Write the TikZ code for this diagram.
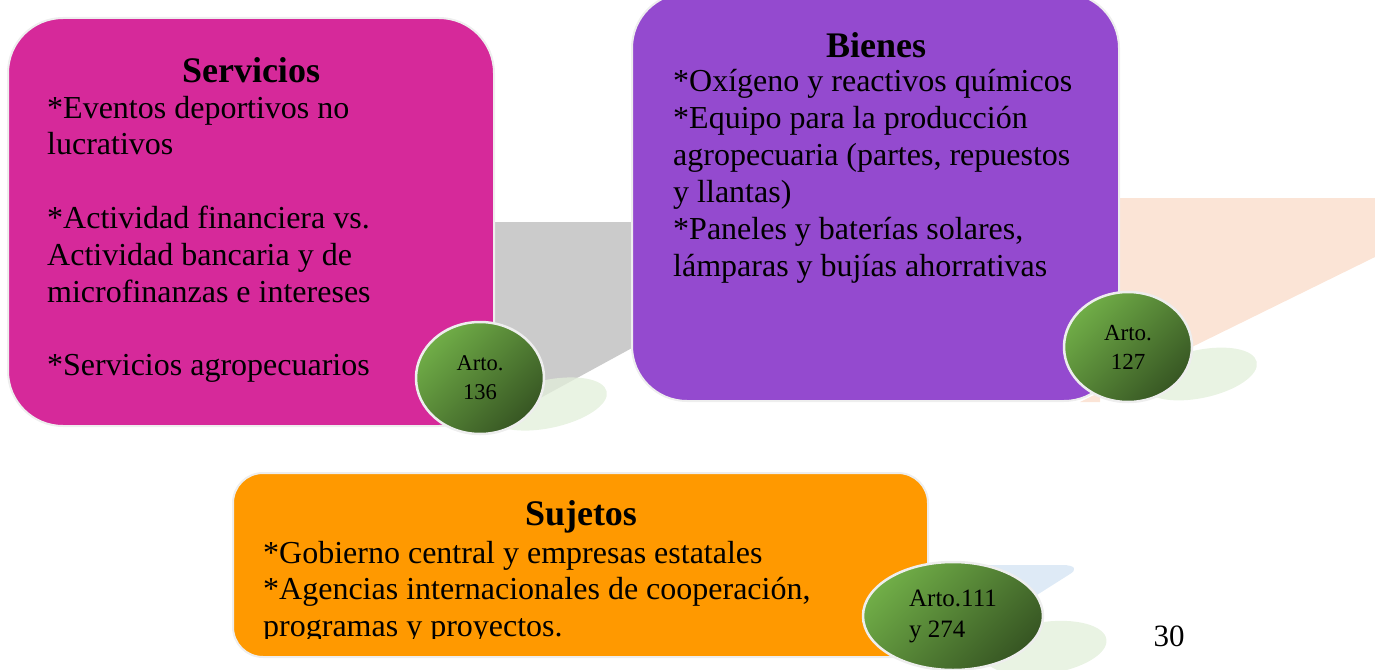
\documentclass[tikz,border=0pt]{standalone}
\usepackage{fontspec}
\setmainfont{Liberation Serif}
\usetikzlibrary{shapes.geometric}
\definecolor{pinkc}{HTML}{D6299A}
\definecolor{purplec}{HTML}{944ACF}
\definecolor{orangec}{HTML}{FF9900}
\definecolor{grayc}{HTML}{CBCBCB}
\definecolor{peachc}{HTML}{FBE4D6}
\definecolor{bluec}{HTML}{DEEAF6}
\definecolor{shadowc}{HTML}{E2EFDA}
\definecolor{glight}{HTML}{70AD47}
\definecolor{gdark}{HTML}{375623}
\definecolor{edgec}{HTML}{EEEEEE}
\newcommand\linesblock[1]{\vtop{\baselineskip=36.8pt\lineskiplimit=-100pt #1}}
\tikzset{
  bigbox/.style={draw=edgec, line width=2pt, rounded corners=55pt, inner sep=0pt},
  smallbox/.style={draw=edgec, line width=2pt, rounded corners=30pt, inner sep=0pt},
  shadowell/.style={ellipse, fill=shadowc, fill opacity=0.75, draw=none, inner sep=0pt},
  artoell/.style={ellipse, draw=edgec, line width=2.5pt, top color=glight, bottom color=gdark, shading angle=45, inner sep=0pt},
  heading/.style={font=\fontsize{36}{40}\selectfont\bfseries, anchor=base, inner sep=0pt},
  body/.style={anchor=base west, inner sep=0pt, font=\fontsize{32}{36.8}\selectfont},
}
\begin{document}
\begin{tikzpicture}[x=1pt,y=-1pt]
\useasboundingbox (0,0) rectangle (1375,669);
% tails
\fill[grayc] (480,222) -- (632,222) -- (632,348) -- (500,420) -- (480,420) -- cycle;
\fill[peachc] (1100,198) -- (1375,198) -- (1375,257) -- (1080,402) -- (1100,402) -- cycle;
\fill[bluec] (900,565) -- (1062,565) .. controls (1076,565) and (1077,570) .. (1070,574) -- (1010,612) -- (900,612) -- cycle;
% shadows
\node[shadowell, minimum width=120pt, minimum height=48pt, rotate=12] (sh1) at (548,404) {};
\node[shadowell, minimum width=116pt, minimum height=48pt, rotate=12] (sh2) at (1200,374) {};
\node[shadowell, minimum width=124pt, minimum height=52pt, rotate=8] (sh3) at (1045,648) {};
% boxes
\node[bigbox, fill=pinkc, minimum width=486pt, minimum height=408pt] (serv) at (251,222) {};
\node[bigbox, fill=purplec, minimum width=487pt, minimum height=408pt] (bien) at (875.5,197) {};
\node[smallbox, fill=orangec, minimum width=695pt, minimum height=184pt] (suj) at (580.5,565) {};
% texts
\node[heading] (servh) at (251,82) {Servicios};
\node[body] (servt) at (47,118) {\linesblock{\hbox{*Eventos deportivos no}\hbox{lucrativos}\hbox{}\hbox{*Actividad financiera vs.}\hbox{Actividad bancaria y de}\hbox{microfinanzas e intereses}\hbox{}\hbox{*Servicios agropecuarios}}};
\node[heading] (bienh) at (876,57) {Bienes};
\node[body] (bient) at (673,92) {\linesblock{\hbox{*Oxígeno y reactivos químicos}\hbox{*Equipo para la producción}\hbox{agropecuaria (partes, repuestos}\hbox{y llantas)}\hbox{*Paneles y baterías solares,}\hbox{lámparas y bujías ahorrativas}}};
\node[heading] (sujh) at (581,525) {Sujetos};
\begin{scope}
\clip (233,473) rectangle (928,638);
\node[body] (sujt) at (263,563) {\linesblock{\baselineskip=36.5pt\hbox{*Gobierno central y empresas estatales}\hbox{*Agencias internacionales de cooperación,}\hbox{programas y proyectos.}}};
\end{scope}
% article ellipses
\node[artoell, minimum width=128pt, minimum height=112pt, align=center, font=\fontsize{22.5}{29}\selectfont] (a136) at (480,378) {Arto.\\136};
\node[artoell, minimum width=128pt, minimum height=110pt, align=center, font=\fontsize{23}{29}\selectfont] (a127) at (1128,347) {Arto.\\127};
\node[artoell, minimum width=180pt, minimum height=108pt, align=left, font=\fontsize{25}{31}\selectfont] (a111) at (953,616) {Arto.111\\y 274};
% page number
\node[anchor=base, inner sep=0pt, font=\fontsize{31}{36}\selectfont] (pnum) at (1169,646) {30};
\end{tikzpicture}
\end{document}
